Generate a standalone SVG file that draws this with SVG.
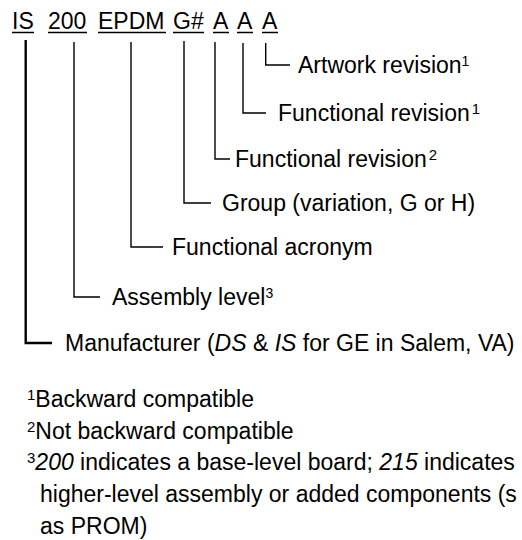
<svg xmlns="http://www.w3.org/2000/svg" width="522" height="540" viewBox="0 0 522 540">
<style>
text{font-family:"Liberation Sans",Arial,sans-serif;font-size:23px;fill:#000}
.sup{font-size:14px}
.fsup{font-size:15px}
.it{font-style:italic}
.ln{stroke:#000;stroke-width:1.4;fill:none}
.ul{stroke:#000;stroke-width:1.5}
</style>
<rect width="522" height="540" fill="#fff"/>
<g id="code">
<text x="12" y="28.5">IS</text>
<text x="48" y="28.5">200</text>
<text x="98" y="28.5">EPDM</text>
<text x="173" y="28.5">G#</text>
<text x="213" y="28.5">A</text>
<text x="237" y="28.5">A</text>
<text x="262" y="28.5">A</text>
<line class="ul" x1="12" y1="32.5" x2="34" y2="32.5"/>
<line class="ul" x1="48" y1="32.5" x2="87" y2="32.5"/>
<line class="ul" x1="98" y1="32.5" x2="166" y2="32.5"/>
<line class="ul" x1="173" y1="32.5" x2="204" y2="32.5"/>
<line class="ul" x1="213" y1="32.5" x2="229" y2="32.5"/>
<line class="ul" x1="237" y1="32.5" x2="253" y2="32.5"/>
<line class="ul" x1="262" y1="32.5" x2="278" y2="32.5"/>
</g>
<g id="connectors">
<path class="ln" d="M25.7 40V343H52" style="stroke-width:2.4"/>
<path class="ln" d="M74 42V297H100"/>
<path class="ln" d="M131 42V247H163"/>
<path class="ln" d="M184 41V203H211"/>
<path class="ln" d="M215 42V159H230"/>
<path class="ln" d="M243 43V113H266"/>
<path class="ln" d="M265.7 43V65H290"/>
</g>
<g id="artwork"><text x="298" y="73">Artwork revision<tspan class="sup" dy="-7">1</tspan></text></g>
<g id="func1"><text x="278" y="121">Functional revision<tspan class="fsup" dx="2" dy="-7">1</tspan></text></g>
<g id="func2"><text x="235" y="167">Functional revision<tspan class="fsup" dx="2" dy="-7">2</tspan></text></g>
<g id="group"><text x="222" y="211">Group (variation, G or H)</text></g>
<g id="acronym"><text x="172" y="255">Functional acronym</text></g>
<g id="assembly"><text x="112" y="305">Assembly level<tspan class="sup" dy="-7">3</tspan></text></g>
<g id="manufacturer"><text x="65" y="351">Manufacturer (<tspan class="it">DS</tspan> &amp; <tspan class="it">IS</tspan> for GE in Salem, VA)</text></g>
<g id="notes">
<text x="27" y="407"><tspan class="fsup" dy="-7">1</tspan><tspan dy="7">Backward compatible</tspan></text>
<text x="27" y="439"><tspan class="fsup" dy="-7">2</tspan><tspan dy="7">Not backward compatible</tspan></text>
<text x="27" y="470"><tspan class="fsup" dy="-7">3</tspan><tspan class="it" dy="7">200</tspan> indicates a base-level board; <tspan class="it">215</tspan> indicates</text>
<text x="40" y="502">higher-level assembly or added components (s</text>
<text x="40" y="534">as PROM)</text>
</g>
</svg>
